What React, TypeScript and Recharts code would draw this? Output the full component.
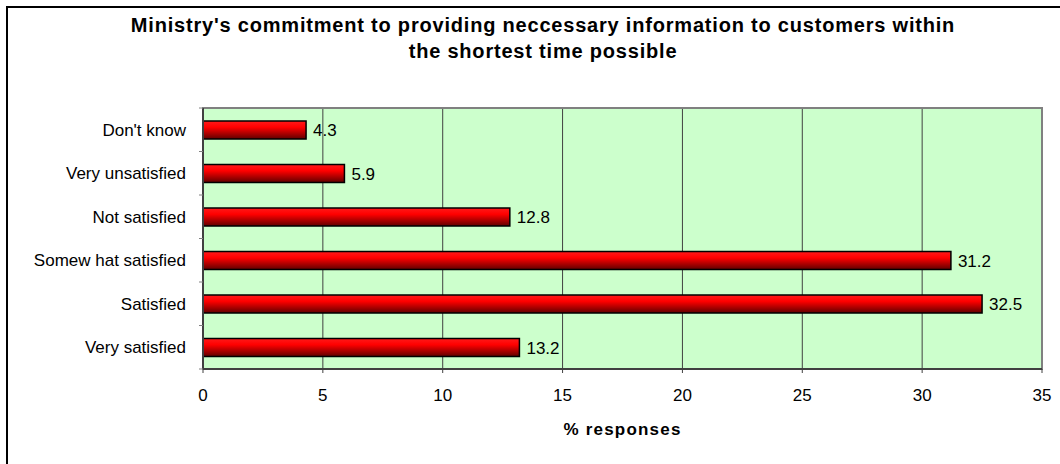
import { BarChart, Bar, XAxis, YAxis, CartesianGrid, LabelList, Label, ReferenceArea } from 'recharts'

// categories top to bottom, as in the original chart
const categories = ["Don't know", 'Very unsatisfied', 'Not satisfied', 'Somew hat satisfied', 'Satisfied', 'Very satisfied']
const responses = [4.3, 5.9, 12.8, 31.2, 32.5, 13.2]
const xTicks = [0, 5, 10, 15, 20, 25, 30, 35]

const titleLines = [
  "Ministry's commitment to providing neccessary information to customers within",
  'the shortest time possible',
]

const data = categories.map((name, i) => ({ name, value: responses[i] }))

const FONT = '"Liberation Sans", Arial, sans-serif'

// label + little tick marks sitting on the band edges (excel style)
function CategoryTick(props: any) {
  const { x, y, payload, index } = props
  const half = payload.offset ?? 21.75
  const axisX = x + 17
  return (
    <g>
      <line x1={axisX - 4} x2={axisX} y1={y - half} y2={y - half} stroke="#808080" />
      {index === categories.length - 1 && (
        <line x1={axisX - 4} x2={axisX} y1={y + half} y2={y + half} stroke="#808080" />
      )}
      <text x={x} y={y} dy={6} textAnchor="end" fontSize={17} fill="#000">
        {payload.value}
      </text>
    </g>
  )
}

export default function App() {
  return (
    <div
      style={{
        position: 'absolute', left: 0, top: 0, width: 1060, height: 464,
        overflow: 'hidden', background: '#fff', fontFamily: FONT,
      }}
    >
      <div
        style={{
          position: 'absolute', left: 6, top: 6, width: 1100, height: 500,
          borderTop: '2px solid #000', borderLeft: '2px solid #000',
        }}
      />
      <svg width={1060} height={70} style={{ position: 'absolute', left: 0, top: 0 }}>
        {titleLines.map((t, i) => (
          <text
            key={i}
            x={543}
            y={31.5 + i * 26.5}
            textAnchor="middle"
            fontSize={20}
            fontWeight="bold"
            fill="#000"
            style={{ letterSpacing: '0.8px' }}
          >
            {t}
          </text>
        ))}
      </svg>
      <div style={{ position: 'absolute', left: 0, top: 0 }}>
        <BarChart
          width={1060}
          height={464}
          data={data}
          layout="vertical"
          margin={{ top: 108, right: 18, bottom: 0, left: 0 }}
          barCategoryGap={0}
        >
          <defs>
            <linearGradient id="barGrad" x1="0" y1="0" x2="0" y2="1">
              <stop offset="0%" stopColor="#ff1a1a" />
              <stop offset="35%" stopColor="#ff0000" />
              <stop offset="100%" stopColor="#600000" />
            </linearGradient>
          </defs>
          <CartesianGrid horizontal={false} fill="#ccffcc" stroke="#404040" strokeOpacity={1} />
          <ReferenceArea x1={0} x2={35} fill="none" stroke="#808080" strokeWidth={2} ifOverflow="visible" />
          <XAxis
            type="number"
            domain={[0, 35]}
            ticks={xTicks}
            height={95}
            axisLine={{ stroke: '#404040', strokeWidth: 2 }}
            tickLine={{ stroke: '#404040' }}
            tickSize={4}
            tickMargin={16}
            tick={{ fill: '#000', fontSize: 17 }}
          >
            <Label
              value="% responses"
              position="insideBottom"
              offset={29}
              fill="#000"
              fontSize={17}
              fontWeight="bold"
              style={{ letterSpacing: '1.2px' }}
            />
          </XAxis>
          <YAxis
            type="category"
            dataKey="name"
            width={203}
            axisLine={{ stroke: '#404040', strokeWidth: 2 }}
            tickLine={false}
            tickSize={0}
            tickMargin={17}
            tick={<CategoryTick />}
            interval={0}
          />
          <Bar
            dataKey="value"
            barSize={18}
            fill="url(#barGrad)"
            stroke="#000"
            strokeWidth={1.5}
            isAnimationActive={false}
          >
            <LabelList
              dataKey="value"
              position="right"
              offset={7}
              fill="#000"
              fontSize={17}
              formatter={(v: any) => Number(v).toFixed(1)}
            />
          </Bar>
        </BarChart>
      </div>
    </div>
  )
}
